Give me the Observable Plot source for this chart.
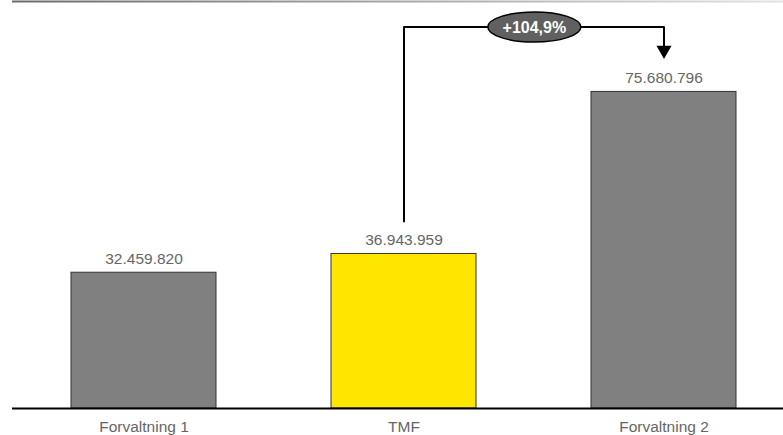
<!DOCTYPE html>
<html>
<head>
<meta charset="utf-8">
<script src="https://cdn.jsdelivr.net/npm/d3@7"></script>
<script src="https://cdn.jsdelivr.net/npm/@observablehq/plot@0.6"></script>
<style>
  html, body { margin: 0; padding: 0; background: #fff; }
  #chart { width: 783px; height: 435px; overflow: hidden; }
</style>
</head>
<body>
<div id="chart"></div>
<script>
// ---- data ----
const categories = ["Forvaltning 1", "TMF", "Forvaltning 2"];
const values = [32459820, 36943959, 75680796];
const highlighted = "TMF";
// annotation: growth from TMF to Forvaltning 2
const fromCategory = "TMF";
const toCategory = "Forvaltning 2";
const bracketStart = 44.7e6;   // where the bracket leaves TMF
const bracketLevel = 91.2e6;   // horizontal level of the bracket
const arrowBase = 86.7e6;      // top of the arrow head
const yMax = 97.3e6;

// ---- derived ----
const fmt = d3.formatLocale({decimal: ",", thousands: ".", grouping: [3], currency: ["", ""]});
const data = categories.map((c, i) => ({name: c, value: values[i], label: fmt.format(",")(values[i])}));
const growth = values[categories.indexOf(toCategory)] / values[categories.indexOf(fromCategory)] - 1;
const growthLabel = "+" + fmt.format(".1f")(growth * 100) + "%";
const bracket = [
  {x: fromCategory, y: bracketStart},
  {x: fromCategory, y: bracketLevel},
  {x: toCategory, y: bracketLevel},
  {x: toCategory, y: arrowBase}
];

const xRange = [70, 736.5];
const padInner = 0.443;
const step = (xRange[1] - xRange[0]) / (categories.length - padInner);
const gap = categories.indexOf(toCategory) - categories.indexOf(fromCategory);

const downTriangle = {
  draw(ctx, size) {
    const s = Math.sqrt(size / Math.PI);
    ctx.moveTo(-s, 0);
    ctx.lineTo(s, 0);
    ctx.lineTo(0, s * 1.75);
    ctx.closePath();
  }
};
const ellipse = {
  draw(ctx, size) {
    const rx = Math.sqrt(size / Math.PI), ry = rx / 3.1, k = 0.5523;
    ctx.moveTo(rx, 0);
    ctx.bezierCurveTo(rx, ry * k, rx * k, ry, 0, ry);
    ctx.bezierCurveTo(-rx * k, ry, -rx, ry * k, -rx, 0);
    ctx.bezierCurveTo(-rx, -ry * k, -rx * k, -ry, 0, -ry);
    ctx.bezierCurveTo(rx * k, -ry, rx, -ry * k, rx, 0);
    ctx.closePath();
  }
};

const font = "'Liberation Sans', Arial, Helvetica, sans-serif";

const svg = Plot.plot({
  width: 783,
  height: 435,
  marginTop: 1,
  marginBottom: 27,
  marginLeft: 12,
  marginRight: 0,
  style: {fontFamily: font, fontSize: "15.5px", color: "#666", background: "#fff"},
  x: {domain: categories, range: xRange, paddingInner: padInner, paddingOuter: 0,
      axis: "bottom", tickSize: 0, tickPadding: 12, label: null},
  y: {domain: [0, yMax], axis: null},
  marks: [
    Plot.ruleY([yMax], {stroke: "url(#topGrad)", strokeWidth: 2}),
    Plot.barY(data, {x: "name", y: "value",
      fill: d => d.name === highlighted ? "#ffe600" : "#808080",
      stroke: "#333", strokeWidth: 1}),
    Plot.ruleY([0], {stroke: "#000", strokeWidth: 2}),
    Plot.text(data, {x: "name", y: "value", text: "label", lineAnchor: "bottom", dy: -9,
      fill: "#666", fontSize: 15.5}),
    Plot.line(bracket, {x: "x", y: "y", stroke: "#000", strokeWidth: 2, curve: "linear"}),
    Plot.dot([{x: toCategory, y: arrowBase}], {x: "x", y: "y", symbol: downTriangle, r: 7.5,
      fill: "#000", stroke: "none"}),
    Plot.dot([{x: fromCategory, y: bracketLevel}], {x: "x", y: "y", dx: step * gap / 2,
      symbol: ellipse, r: 46.5, fill: "#606060", stroke: "#000", strokeWidth: 1.5}),
    Plot.text([{x: fromCategory, y: bracketLevel, t: growthLabel}], {x: "x", y: "y", text: "t",
      dx: step * gap / 2, dy: 0.5, fill: "#fff", fontWeight: "bold", fontSize: 16})
  ]
});

const defs = d3.select(svg).insert("defs", ":first-child");
const grad = defs.append("linearGradient").attr("id", "topGrad")
  .attr("gradientUnits", "userSpaceOnUse")
  .attr("x1", 12).attr("x2", 783).attr("y1", 0).attr("y2", 0);
grad.append("stop").attr("offset", "0%").attr("stop-color", "#6a6a6a");
grad.append("stop").attr("offset", "100%").attr("stop-color", "#e2e2e2");

document.getElementById("chart").appendChild(svg);
</script>
</body>
</html>
